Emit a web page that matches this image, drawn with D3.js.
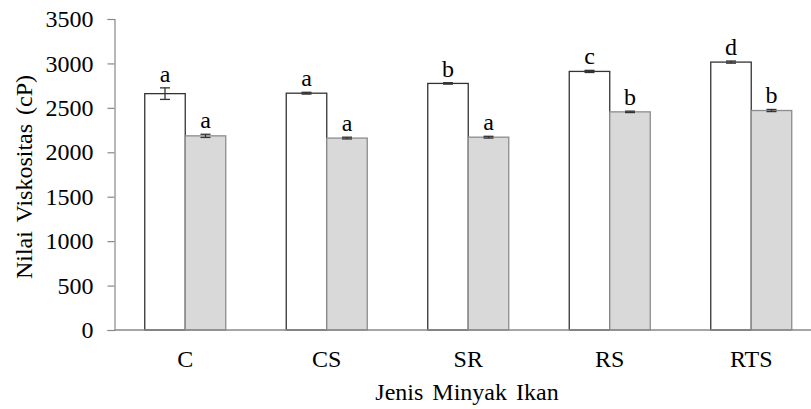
<!DOCTYPE html>
<html>
<head>
<meta charset="utf-8">
<script src="https://cdn.jsdelivr.net/npm/d3@7/dist/d3.min.js"></script>
<style>
  html, body { margin: 0; padding: 0; background: #fff; }
  svg { display: block; }
</style>
</head>
<body>
<svg id="chart" width="811" height="409"></svg>
<script>
// Viscosity of fish oil types, two measurement groups per type
const categories = ["C", "CS", "SR", "RS", "RTS"];
const seriesA = [2660, 2665, 2775, 2910, 3015];
const seriesB = [2185, 2160, 2170, 2455, 2470];
const errorA = [65, 10, 8, 12, 12];
const errorB = [18, 10, 10, 8, 12];
const lettersA = ["a", "a", "b", "c", "d"];
const lettersB = ["a", "a", "a", "b", "b"];
const yTicks = [0, 500, 1000, 1500, 2000, 2500, 3000, 3500];

const FONT = "'Liberation Serif', 'Times New Roman', serif";
const FS = "24px";

const svg = d3.select("#chart").attr("font-family", FONT);
const plotLeft = 114.5, plotRight = 822, plotTop = 19, plotBottom = 330;

const x = d3.scaleBand().domain(categories).range([plotLeft, plotRight]).padding(0);
const y = d3.scaleLinear().domain([0, 3500]).range([plotBottom, plotTop]);
const barW = 40.5;

// y axis
const yAxis = d3.axisLeft(y).tickValues(yTicks).tickSize(7).tickPadding(14).tickFormat(d3.format("d"));
const gy = svg.append("g").attr("transform", `translate(${plotLeft},0)`).call(yAxis)
  .attr("font-family", FONT).attr("font-size", FS);
gy.select(".domain").attr("stroke", "#888").attr("stroke-width", 1.2);
gy.selectAll(".tick line").attr("stroke", "#888").attr("stroke-width", 1.2);
gy.selectAll(".tick text").attr("fill", "#000").style("font-family", FONT).style("font-size", FS);

const groups = categories.map((c, i) => ({
  c, i,
  a: seriesA[i], b: seriesB[i],
  ea: errorA[i], eb: errorB[i],
  la: lettersA[i], lb: lettersB[i]
}));

// bars
svg.append("g").selectAll("rect").data(groups).join("rect")
  .attr("x", d => x(d.c) + x.bandwidth() / 2 - barW)
  .attr("y", d => y(d.a))
  .attr("width", barW)
  .attr("height", d => y(0) - y(d.a))
  .attr("fill", "#fff").attr("stroke", "#333").attr("stroke-width", 1.3);

svg.append("g").selectAll("rect").data(groups).join("rect")
  .attr("x", d => x(d.c) + x.bandwidth() / 2)
  .attr("y", d => y(d.b))
  .attr("width", barW)
  .attr("height", d => y(0) - y(d.b))
  .attr("fill", "#d9d9d9").attr("stroke", "#8c8c8c").attr("stroke-width", 1.3);

// x axis line
svg.append("line")
  .attr("x1", plotLeft).attr("x2", plotRight)
  .attr("y1", y(0)).attr("y2", y(0))
  .attr("stroke", "#888").attr("stroke-width", 1.5);

// error bars
function errorBar(g, cx, v, e) {
  const cap = 5;
  g.append("line").attr("x1", cx).attr("x2", cx).attr("y1", y(v + e)).attr("y2", y(v - e));
  g.append("line").attr("x1", cx - cap).attr("x2", cx + cap).attr("y1", y(v + e)).attr("y2", y(v + e));
  g.append("line").attr("x1", cx - cap).attr("x2", cx + cap).attr("y1", y(v - e)).attr("y2", y(v - e));
}
const eg = svg.append("g").attr("stroke", "#333").attr("stroke-width", 1.3);
groups.forEach(d => {
  const cx = x(d.c) + x.bandwidth() / 2;
  errorBar(eg, cx - barW / 2, d.a, d.ea);
  errorBar(eg, cx + barW / 2, d.b, d.eb);
});

// significance letters
const lg = svg.append("g").attr("text-anchor", "middle");
function txt(sel) { return sel.style("font-family", FONT).style("font-size", FS).attr("fill", "#000"); }
groups.forEach(d => {
  const cx = x(d.c) + x.bandwidth() / 2;
  txt(lg.append("text")).attr("x", cx - barW / 2).attr("y", y(d.a + d.ea) - 6).text(d.la);
  txt(lg.append("text")).attr("x", cx + barW / 2).attr("y", y(d.b + d.eb) - 6).text(d.lb);
});

// category labels
txt(svg.append("g").selectAll("text").data(categories).join("text"))
  .attr("x", d => x(d) + x.bandwidth() / 2)
  .attr("y", 367)
  .attr("text-anchor", "middle")
  .text(d => d);

// axis titles
txt(svg.append("text"))
  .attr("x", 467).attr("y", 400)
  .attr("text-anchor", "middle")
  .attr("word-spacing", "3px")
  .text("Jenis Minyak Ikan");

txt(svg.append("text"))
  .attr("transform", "translate(32,177) rotate(-90)")
  .attr("text-anchor", "middle")
  .attr("word-spacing", "3px")
  .text("Nilai Viskositas (cP)");
</script>
</body>
</html>
